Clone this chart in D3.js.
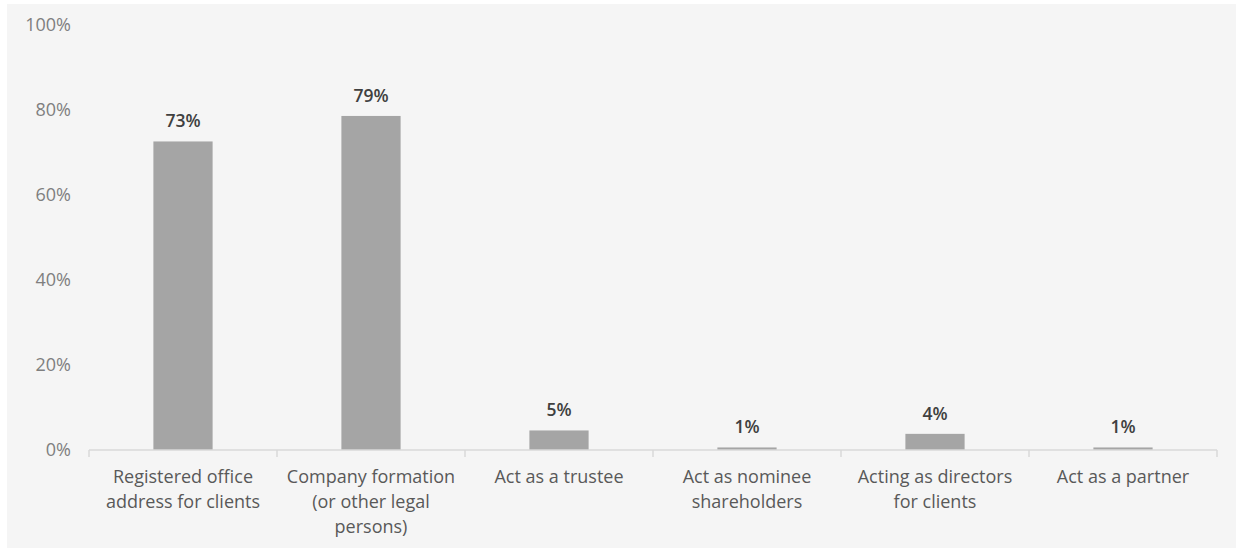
<!DOCTYPE html>
<html>
<head>
<meta charset="utf-8">
<script src="https://cdn.jsdelivr.net/npm/d3@7/dist/d3.min.js"></script>
<style>
  html, body { margin: 0; padding: 0; background: #ffffff; }
  svg { display: block; }
  text { font-family: "Open Sans", "Noto Sans", sans-serif; }
</style>
</head>
<body>
<svg id="chart" width="1236" height="548"></svg>
<script>
// Share of firms offering each service
const categories = [
  ["Registered office", "address for clients"],
  ["Company formation", "(or other legal", "persons)"],
  ["Act as a trustee"],
  ["Act as nominee", "shareholders"],
  ["Acting as directors", "for clients"],
  ["Act as a partner"]
];
const values = [0.726, 0.786, 0.046, 0.006, 0.038, 0.006];
const yTicks = [0, 0.2, 0.4, 0.6, 0.8, 1.0];

const svg = d3.select("#chart");
const W = 1236, H = 548;
const margin = { top: 25, right: 19, bottom: 98, left: 89 };

// panel background
svg.append("rect")
  .attr("x", 7).attr("y", 4)
  .attr("width", W - 7).attr("height", H - 4)
  .attr("fill", "#f5f5f5");

const x = d3.scaleBand()
  .domain(d3.range(categories.length))
  .range([margin.left, W - margin.right])
  .paddingInner(0.685).paddingOuter(0.3425);

const y = d3.scaleLinear()
  .domain([0, 1])
  .range([H - margin.bottom, margin.top]);

// y axis labels (no axis line)
const yAxis = svg.append("g")
  .attr("transform", `translate(${margin.left},0)`)
  .call(d3.axisLeft(y).tickValues(yTicks).tickFormat(d3.format(".0%")).tickSize(0).tickPadding(18));
yAxis.select(".domain").remove();
yAxis.selectAll("text")
  .attr("fill", "#7f7f7f")
  .style("font-size", "18px");

// bars
svg.append("g").selectAll("rect")
  .data(values)
  .join("rect")
  .attr("x", (d, i) => x(i))
  .attr("y", d => y(d))
  .attr("width", x.bandwidth())
  .attr("height", d => y(0) - y(d))
  .attr("fill", "#a5a5a5");

// value labels
svg.append("g").selectAll("text")
  .data(values)
  .join("text")
  .attr("x", (d, i) => x(i) + x.bandwidth() / 2)
  .attr("y", d => y(d) - 14)
  .attr("text-anchor", "middle")
  .attr("fill", "#404040")
  .style("font-size", "17.5px")
  .style("font-weight", "600")
  .text(d => d3.format(".0%")(d));

// x axis: baseline with category boundary ticks
const x0 = margin.left, x1 = W - margin.right;
const bandStep = (x1 - x0) / categories.length;
const axisG = svg.append("g");
axisG.append("line")
  .attr("x1", x0).attr("x2", x1)
  .attr("y1", y(0)).attr("y2", y(0))
  .attr("stroke", "#d9d9d9").attr("stroke-width", 1.5);
axisG.selectAll("line.tick")
  .data(d3.range(categories.length + 1))
  .join("line")
  .attr("class", "tick")
  .attr("x1", i => x0 + i * bandStep).attr("x2", i => x0 + i * bandStep)
  .attr("y1", y(0)).attr("y2", y(0) + 7)
  .attr("stroke", "#d9d9d9").attr("stroke-width", 1.5);

// category labels
const labels = svg.append("g").selectAll("text")
  .data(categories)
  .join("text")
  .attr("x", (d, i) => x(i) + x.bandwidth() / 2)
  .attr("y", y(0) + 33)
  .attr("text-anchor", "middle")
  .attr("fill", "#595959")
  .style("font-size", "18px");
labels.selectAll("tspan")
  .data(d => d)
  .join("tspan")
  .attr("x", function () { return this.parentNode.getAttribute("x"); })
  .attr("dy", (d, j) => j === 0 ? 0 : 25)
  .text(d => d);
</script>
</body>
</html>
